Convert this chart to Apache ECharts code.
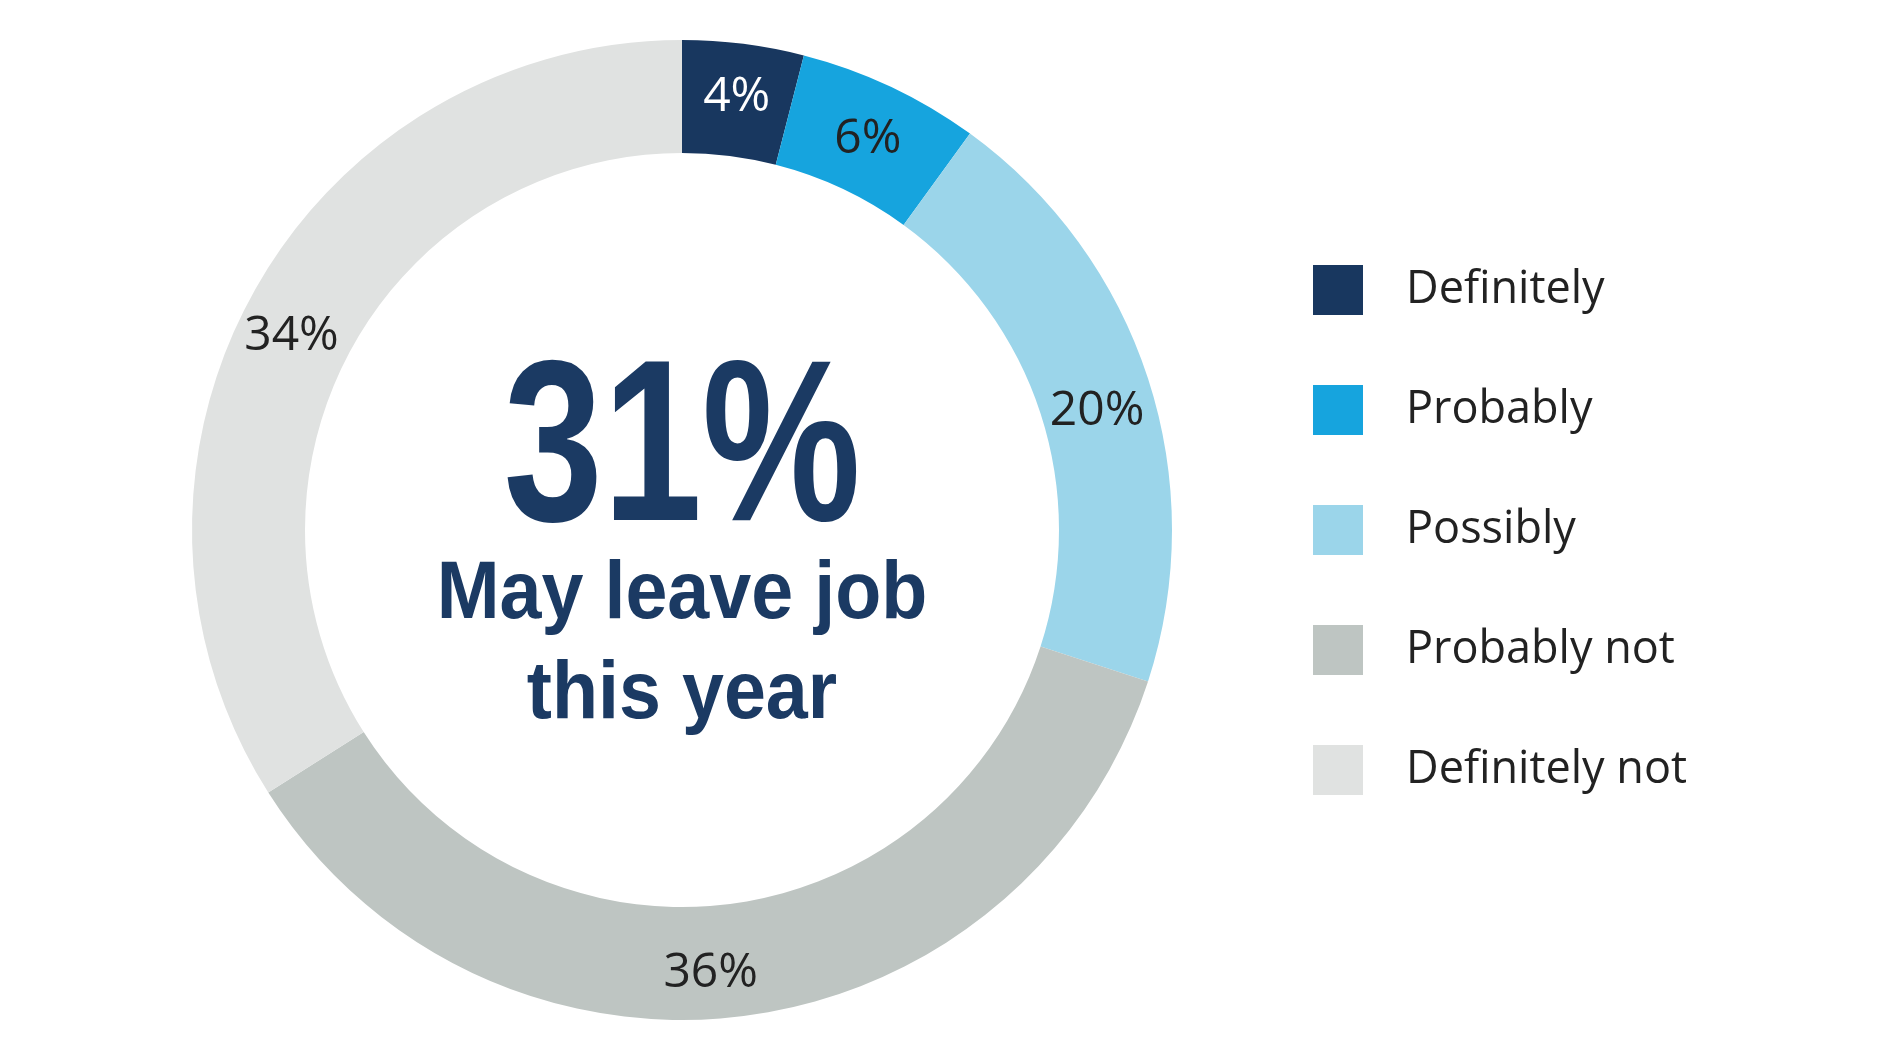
<!DOCTYPE html>
<html>
<head>
    <meta charset="utf-8">
    <script src="https://cdn.jsdelivr.net/npm/echarts@6/dist/echarts.min.js"></script>
    <style>
        html, body { margin: 0; padding: 0; background: #fff; }
    </style>
</head>
<body>
<div id="main" style="width: 1880px;height:1060px;"></div>

<script type="text/javascript">
    // data
    var categories = ['Definitely', 'Probably', 'Possibly', 'Probably not', 'Definitely not'];
    var shares = [4, 6, 20, 36, 34];
    var colors = ['#18375f', '#16a4de', '#9bd5ea', '#bec5c2', '#e0e2e1'];
    var labelColors = ['#ffffff', '#222222', '#222222', '#222222', '#222222'];
    var headline = '31%';
    var subline = 'May leave job\nthis year';

    // small nudges so the value labels sit where the original put them [dx, dy]
    var labelNudge = [[0, 0], [0, 4], [0, 16], [-26, 10], [-8, 17]];

    var dom = document.getElementById('main');
    var myChart = echarts.init(dom);

    function nudgedLabel(i) {
        var dx = labelNudge[i][0], dy = labelNudge[i][1];
        // text is centred in its box: uneven side padding moves it by half the difference
        var lbl = {
            color: labelColors[i],
            padding: [0, Math.max(-dx * 2, 0), 0, Math.max(dx * 2, 0)]
        };
        // padding does not move middle-aligned text vertically, an empty first line does
        if (dy > 0) {
            lbl.formatter = '\n{c}%';
            lbl.lineHeight = dy * 2;
        }
        return lbl;
    }

    var pieData = categories.map(function (name, i) {
        return {
            name: name,
            value: shares[i],
            itemStyle: { color: colors[i] },
            label: nudgedLabel(i)
        };
    });

    var option = {
        animation: false,
        color: colors,
        legend: {
            orient: 'vertical',
            left: 1313,
            top: 265,
            padding: 0,
            itemWidth: 50,
            itemHeight: 50,
            itemGap: 70,
            icon: 'rect',
            data: categories,
            textStyle: {
                fontFamily: 'Open Sans',
                fontSize: 45,
                color: '#222',
                lineHeight: 50,
                padding: [0, 0, 0, 38]
            }
        },
        graphic: [
            {
                type: 'text',
                x: 682,
                y: 572,
                scaleX: 0.776,
                style: {
                    text: headline,
                    font: 'bold 230px "Liberation Sans", Arial, sans-serif',
                    fill: '#1b3a63',
                    textAlign: 'center',
                    textVerticalAlign: 'bottom'
                }
            },
            {
                type: 'text',
                x: 682,
                y: 545,
                scaleX: 0.92,
                style: {
                    text: subline,
                    font: 'bold 82px "Liberation Sans", Arial, sans-serif',
                    lineHeight: 100,
                    fill: '#1b3a63',
                    textAlign: 'center',
                    textVerticalAlign: 'top'
                }
            }
        ],
        series: [{
            name: 'Leave job',
            type: 'pie',
            center: [682, 530],
            radius: [377, 490],
            startAngle: 90,
            clockwise: true,
            avoidLabelOverlap: false,
            label: {
                show: true,
                position: 'inside',
                formatter: '{c}%',
                fontFamily: 'Open Sans',
                fontSize: 48
            },
            labelLine: { show: false },
            emphasis: { disabled: true },
            data: pieData
        }]
    };

    if (option && typeof option === "object") {
        myChart.setOption(option, true);
    }
</script>
</body>
</html>
